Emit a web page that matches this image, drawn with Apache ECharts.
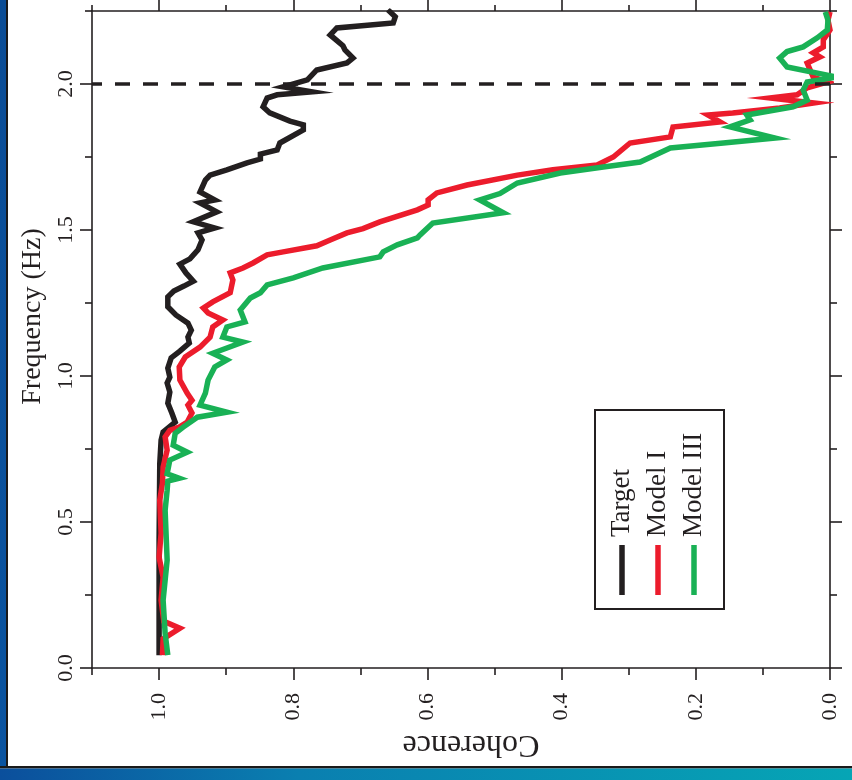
<!DOCTYPE html>
<html>
<head>
<meta charset="utf-8">
<script src="https://cdn.jsdelivr.net/npm/echarts@6/dist/echarts.min.js"></script>
<style>
html,body{margin:0;padding:0;background:#fff;}
#chart{width:852px;height:780px;}
</style>
</head>
<body>
<div id="chart"></div>
<script>
// [coherence, frequency (Hz)]
const targetData = [
  [1.000,0.044],[1.000,0.440],[0.999,0.700],[0.997,0.780],[0.994,0.808],[0.976,0.842],
  [0.981,0.873],[0.987,0.907],[0.984,0.945],[0.988,0.976],[0.984,0.996],[0.987,1.027],
  [0.982,1.062],[0.969,1.085],[0.955,1.113],[0.957,1.133],[0.952,1.157],[0.957,1.181],
  [0.975,1.209],[0.987,1.237],[0.987,1.271],[0.978,1.291],[0.963,1.308],[0.949,1.325],
  [0.960,1.353],[0.969,1.383],[0.954,1.401],[0.942,1.432],[0.936,1.466],[0.942,1.490],
  [0.917,1.507],[0.949,1.528],[0.914,1.562],[0.939,1.593],[0.917,1.603],[0.939,1.630],
  [0.931,1.671],[0.924,1.688],[0.899,1.706],[0.869,1.730],[0.849,1.743],[0.849,1.760],
  [0.824,1.774],[0.820,1.798],[0.785,1.843],[0.785,1.860],[0.805,1.873],[0.835,1.901],
  [0.845,1.922],[0.839,1.952],[0.824,1.963],[0.772,1.973],[0.815,1.990],[0.779,2.014],
  [0.765,2.048],[0.720,2.072],[0.711,2.089],[0.723,2.117],[0.726,2.131],[0.745,2.168],
  [0.735,2.192],[0.651,2.209],[0.648,2.230],[0.659,2.254]
];
const model1Data = [
  [0.995,0.044],[0.994,0.100],[0.969,0.136],[0.993,0.160],[0.997,0.232],[0.994,0.311],
  [1.000,0.379],[0.997,0.462],[0.999,0.575],[0.995,0.633],[0.994,0.688],[0.988,0.746],
  [0.991,0.791],[0.984,0.814],[0.970,0.825],[0.958,0.842],[0.951,0.873],[0.957,0.900],
  [0.951,0.917],[0.958,0.941],[0.969,0.986],[0.970,1.031],[0.961,1.065],[0.939,1.099],
  [0.924,1.133],[0.920,1.168],[0.905,1.192],[0.927,1.216],[0.934,1.233],[0.920,1.254],
  [0.894,1.285],[0.890,1.329],[0.894,1.353],[0.875,1.370],[0.860,1.387],[0.839,1.415],
  [0.815,1.425],[0.765,1.446],[0.745,1.466],[0.720,1.490],[0.696,1.505],[0.671,1.528],
  [0.615,1.569],[0.599,1.586],[0.599,1.603],[0.586,1.627],[0.541,1.654],[0.466,1.688],
  [0.413,1.706],[0.347,1.723],[0.323,1.750],[0.298,1.798],[0.238,1.819],[0.234,1.853],
  [0.164,1.870],[0.182,1.894],[0.145,1.901],[0.075,1.918],[0.025,1.935],[0.089,1.952],
  [0.049,1.963],[0.034,1.987],[0.004,2.007],[0.025,2.024],[0.034,2.072],[0.015,2.093],
  [0.025,2.107],[0.010,2.127],[0.010,2.151],[0.000,2.185],[0.003,2.219],[0.000,2.247]
];
const model3Data = [
  [0.987,0.044],[0.991,0.119],[0.994,0.232],[0.988,0.369],[0.991,0.540],[0.988,0.609],
  [0.987,0.640],[0.970,0.650],[0.988,0.665],[0.984,0.712],[0.958,0.739],[0.979,0.763],
  [0.976,0.804],[0.964,0.825],[0.943,0.859],[0.899,0.876],[0.939,0.900],[0.931,0.941],
  [0.927,0.986],[0.917,1.031],[0.899,1.055],[0.920,1.078],[0.875,1.116],[0.905,1.133],
  [0.899,1.168],[0.872,1.185],[0.879,1.226],[0.864,1.267],[0.849,1.285],[0.839,1.312],
  [0.800,1.336],[0.756,1.370],[0.671,1.408],[0.666,1.425],[0.645,1.449],[0.615,1.473],
  [0.611,1.483],[0.592,1.524],[0.487,1.559],[0.522,1.603],[0.492,1.625],[0.466,1.661],
  [0.402,1.695],[0.338,1.716],[0.283,1.733],[0.238,1.781],[0.159,1.798],[0.082,1.815],
  [0.149,1.853],[0.119,1.877],[0.124,1.894],[0.055,1.922],[0.034,1.945],[0.040,1.979],
  [0.034,2.007],[-0.010,2.024],[0.064,2.058],[0.075,2.089],[0.064,2.111],[0.040,2.127],
  [0.019,2.158],[0.004,2.185],[0.003,2.219],[0.007,2.247]
];
const seriesNames = ['Target', 'Model I', 'Model III'];
const seriesColors = ['#231f20', '#ec1c2c', '#19b155'];
const cohMajorTicks = [0, 0.2, 0.4, 0.6, 0.8, 1.0];
const cohMinorTicks = [0.1, 0.3, 0.5, 0.7, 0.9, 1.1];
const freqMajorTicks = [0, 0.5, 1.0, 1.5, 2.0];
const freqMinorTicks = [0.25, 0.75, 1.25, 1.75, 2.25];
const refFreq = 2.0;

const INK = '#231f20';
const FONT = '"Liberation Serif", "Times New Roman", serif';

function xAx(pos, ticks, len, showLine, showLabel, extra) {
  return Object.assign({
    type: 'value', position: pos, min: 0, max: 1.1, inverse: true,
    axisLine: { show: showLine, onZero: false, lineStyle: { color: INK, width: 1.6 } },
    axisTick: { show: true, inside: false, length: len, customValues: ticks, lineStyle: { color: INK, width: 1.6 } },
    axisLabel: { show: showLabel, customValues: ticks, rotate: 90, margin: 25, color: INK,
      fontFamily: FONT, fontSize: 22, formatter: v => Number(v).toFixed(1) },
    splitLine: { show: false }
  }, extra || {});
}
function yAx(pos, ticks, len, showLine, showLabel, extra) {
  return Object.assign({
    type: 'value', position: pos, min: 0, max: 2.25,
    axisLine: { show: showLine, onZero: false, lineStyle: { color: INK, width: 1.6 } },
    axisTick: { show: true, inside: false, length: len, customValues: ticks, lineStyle: { color: INK, width: 1.6 } },
    axisLabel: { show: showLabel, customValues: ticks, rotate: 90, margin: 15, color: INK,
      fontFamily: FONT, fontSize: 22, formatter: v => Number(v).toFixed(1) },
    splitLine: { show: false }
  }, extra || {});
}

const chart = echarts.init(document.getElementById('chart'), null, { renderer: 'canvas' });

const legendX = [622, 658, 694];
const graphics = [
  // frame decoration
  { type: 'rect', shape: { x: 0, y: 0, width: 6, height: 768 }, style: { fill: new echarts.graphic.LinearGradient(0, 0, 0, 1, [{ offset: 0, color: '#0b4d96' }, { offset: 1, color: '#0a54a0' }]) }, silent: true },
  { type: 'rect', shape: { x: 6, y: 0, width: 2, height: 768 }, style: { fill: '#1a1a1a' }, silent: true },
  { type: 'rect', shape: { x: 0, y: 766, width: 852, height: 2.5 }, style: { fill: '#1a1a1a' }, silent: true },
  { type: 'rect', shape: { x: 0, y: 768.5, width: 852, height: 12 }, style: { fill: new echarts.graphic.LinearGradient(0, 0, 1, 0, [{ offset: 0, color: '#0b4f9c' }, { offset: 0.35, color: '#0a7fb0' }, { offset: 1, color: '#06a5b5' }]) }, silent: true },
  // legend box
  { type: 'rect', shape: { x: 595, y: 410, width: 129, height: 199 }, style: { fill: '#fff', stroke: INK, lineWidth: 2 }, z: 10, silent: true }
];
seriesNames.forEach((name, i) => {
  graphics.push({ type: 'line', shape: { x1: legendX[i], y1: 545, x2: legendX[i], y2: 595 }, style: { stroke: seriesColors[i], lineWidth: 5.5 }, z: 11, silent: true });
  graphics.push({ type: 'text', x: legendX[i], y: 537, rotation: Math.PI / 2, z: 11, silent: true,
    style: { text: name, fill: INK, font: '27px ' + FONT, align: 'left', verticalAlign: 'middle' } });
});

const option = {
  animation: false,
  backgroundColor: '#ffffff',
  grid: { left: 92, right: 22, top: 11, bottom: 112, containLabel: false },
  xAxis: [
    xAx('bottom', cohMajorTicks, 12, true, true, {
      name: 'Coherence', nameLocation: 'middle', nameGap: 60, nameRotate: 180,
      nameTextStyle: { color: INK, fontFamily: FONT, fontSize: 32, padding: [0, 20, 0, 0] }
    }),
    xAx('bottom', cohMinorTicks, 7, false, false),
    xAx('top', cohMajorTicks, 11, true, false),
    xAx('top', cohMinorTicks, 6, false, false)
  ],
  yAxis: [
    yAx('left', freqMajorTicks, 12, true, true, {
      name: 'Frequency (Hz)', nameLocation: 'middle', nameGap: 38, nameRotate: 90,
      nameTextStyle: { color: INK, fontFamily: FONT, fontSize: 28, padding: [0, 0, 0, 46] }
    }),
    yAx('left', freqMinorTicks, 7, false, false),
    yAx('right', freqMajorTicks, 12, true, false),
    yAx('right', freqMinorTicks, 7, false, false)
  ],
  graphic: graphics,
  series: [targetData, model1Data, model3Data].map((d, i) => ({
    name: seriesNames[i], type: 'line', data: d, xAxisIndex: 0, yAxisIndex: 0,
    symbol: 'none', showSymbol: false, clip: i !== 2, z: 2 + i,
    lineStyle: { color: seriesColors[i], width: 5.5, join: 'miter', miterLimit: 10, cap: 'butt' },
    markLine: i === 2 ? {
      silent: true, symbol: ['none', 'none'], label: { show: false },
      lineStyle: { type: [15, 13], width: 3.5, color: INK },
      data: [{ yAxis: refFreq }]
    } : undefined
  }))
};
chart.setOption(option);
</script>
</body>
</html>
